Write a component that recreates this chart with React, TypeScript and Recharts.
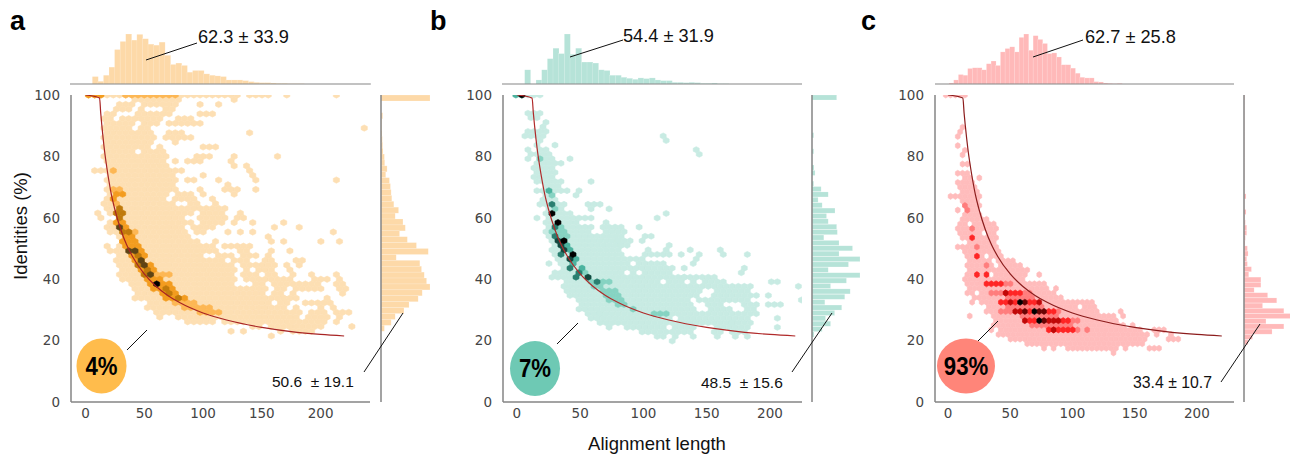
import { BarChart, Bar, XAxis, YAxis, ScatterChart, Scatter } from 'recharts'

// HSSP threshold curve, same in every panel
const curveLength = [0, 12, 13, 14, 16, 18, 20, 22, 25, 30, 35, 40, 50, 60, 70, 80, 100, 120, 150, 180, 200, 220]
const curveIdentity = [100, 99, 94, 89.8, 82.5, 76.8, 71.9, 67.6, 62.7, 56.2, 51.2, 47.4, 41.7, 37.7, 34.7, 32.4, 29, 26.7, 24.3, 22.7, 22, 21.5]

const xTicks = [0, 50, 100, 150, 200]
const yTicks = [0, 20, 40, 60, 80, 100]

// hex bins: [row, from, to, from, to, ...] in alignment length
const hexSpansA = [
  [0, 0,130, 142,154, 169,169, 211,211],
  [1, 40,80, 129,129],
  [2, 28,38, 52,60, 68,74, 100,100, 111,111],
  [3, 24,38, 45,48, 68,76],
  [4, 16,24, 45,60, 66,72, 100,107],
  [5, 15,22, 30,40, 50,62, 77,82, 92,92],
  [6, 16,42, 48,60, 72,82, 88,98],
  [7, 15,22, 28,38, 49,54, 239,239],
  [8, 16,55, 69,80, 137,137],
  [9, 16,58, 71,89],
  [10, 16,20, 25,57, 79,79],
  [11, 18,55, 61,61, 102,109],
  [12, 18,40, 50,66],
  [13, 18,71, 96,105, 129,129, 161,161],
  [14, 18,55, 62,68, 74,74, 85,96, 122,122],
  [15, 20,71, 129,129, 139,139],
  [16, 10,15, 20,50, 57,61, 68,82, 137,137],
  [17, 20,76, 98,98, 140,140],
  [18, 21,45, 52,61, 66,75, 85,91, 111,111, 147,147, 216,216],
  [19, 22,76, 123,123],
  [20, 20,45, 51,74, 100,100, 116,127, 147,147],
  [21, 21,58, 65,71, 81,88, 102,102, 129,129],
  [22, 21,68, 74,90, 110,110],
  [23, 17,72, 88,96, 108,108],
  [24, 20,90, 96,118],
  [25, 13,13, 20,88, 98,118, 133,133],
  [26, 13,13, 27,83, 96,116, 127,127, 135,135],
  [27, 23,83, 90,90, 98,116, 126,126, 142,142, 169,169],
  [28, 21,83, 94,109, 160,160, 181,181],
  [29, 21,85, 94,98, 122,122, 132,132, 142,142, 210,210],
  [30, 27,87, 156,156],
  [31, 30,96, 110,110, 157,157, 169,169, 200,200, 216,216],
  [32, 21,21, 30,95, 104,108, 118,132, 140,140],
  [33, 22,100, 106,110, 134,138, 156,156, 173,173],
  [34, 27,100, 112,122, 135,138, 146,146, 154,154],
  [35, 27,108, 116,118, 126,126, 134,138, 152,156, 180,184],
  [36, 29,126, 134,150, 158,162, 171,171, 181,181],
  [37, 29,104, 113,128, 136,136, 150,156, 172,172],
  [38, 29,125, 135,147, 154,163, 177,177, 192,192, 212,212],
  [39, 29,128, 138,150, 152,162, 170,174, 193,207, 214,214],
  [40, 38,126, 146,152, 160,167, 172,195, 212,220],
  [41, 40,152, 165,170, 178,198, 216,221],
  [42, 43,152, 160,168, 176,176, 218,218],
  [43, 43,167, 171,181, 204,204],
  [44, 54,157, 166,170, 186,201, 210,210],
  [45, 52,170, 177,181, 199,199, 211,211],
  [46, 61,170, 176,180, 193,204, 215,225],
  [47, 64,64, 77,181, 190,204, 214,218],
  [48, 85,102, 108,108, 120,176, 182,203, 214,214],
  [49, 141,150, 158,175, 176,200, 226,226],
  [50, 124,124, 135,135, 165,165, 178,190],
  [51, 158,158],
]

const hexSpansB = [
  [0, -1,16],
  [4, 10,18],
  [5, 11,17],
  [6, 21,21],
  [7, 19,21],
  [8, 9,21],
  [9, 6,9, 15,21, 117,117],
  [10, 18,20, 120,120],
  [11, 18,18, 31,31],
  [12, 10,10, 18,25, 143,143],
  [13, 12,26, 145,145],
  [14, 10,10, 17,30, 42,42],
  [15, 16,29, 35,35],
  [16, 14,28],
  [17, 18,28],
  [18, 12,12, 20,28],
  [19, 18,34, 60,60],
  [20, 21,32],
  [21, 18,38, 47,47],
  [22, 22,30, 49,49],
  [23, 21,32],
  [24, 16,37, 58,64],
  [25, 24,34, 60,60, 74,74],
  [26, 24,42, 117,117],
  [27, 14,14, 25,38, 45,52, 60,60, 110,110],
  [28, 24,45, 72,72],
  [29, 27,58, 70,83, 97,97],
  [30, 21,56, 72,83],
  [31, 25,58, 64,78, 83,83, 99,99, 106,106],
  [32, 27,56, 63,78, 80,89, 99,99],
  [33, 29,58, 64,80, 84,89, 118,118],
  [34, 30,60, 64,78, 104,106, 118,118, 136,136, 159,159],
  [35, 29,62, 70,80, 102,112, 115,121, 129,129, 143,143, 161,161, 183,183],
  [36, 33,64, 71,97, 141,141],
  [37, 24,24, 33,78, 83,89, 95,114, 141,141],
  [38, 35,83, 89,96, 100,122, 131,131, 181,181],
  [39, 30,83, 90,90, 102,121, 178,178],
  [40, 29,130, 134,145, 149,154],
  [41, 40,110, 120,130, 138,138, 151,162, 199,205],
  [42, 37,125, 129,157, 162,183, 224,224],
  [43, 38,125, 129,143, 158,183],
  [44, 42,143, 156,188, 197,197],
  [45, 47,135, 146,162, 170,183, 224,224],
  [46, 50,138, 149,159, 180,188, 201,208],
  [47, 51,141, 154,170, 184,188],
  [48, 54,64, 66,157, 162,191],
  [49, 60,121, 128,172, 176,180, 204,204],
  [50, 67,122, 128,133, 138,168, 170,183],
  [51, 71,71, 88,117, 125,135, 141,141, 156,183, 204,204],
  [52, 99,114, 120,135, 154,161, 170,181],
  [53, 112,114, 124,127, 141,141, 156,156, 172,172, 181,181],
  [54, 124,124],
]

const hexSpansC = [
  [0, 0,12],
  [7, 10,10],
  [8, 8,8],
  [9, 6,6],
  [11, 7,7],
  [12, 12,12],
  [13, 10,10],
  [15, 10,15],
  [17, 7,11, 17,17],
  [18, 13,19, 24,24],
  [19, 7,7, 13,20],
  [20, 8,8, 13,20],
  [21, 13,22],
  [22, 3,22, 24,24],
  [23, 12,22],
  [24, 12,12, 16,24],
  [25, 7,7, 14,24],
  [26, 14,27],
  [27, 11,28, 32,32],
  [28, 11,15, 20,22, 27,37],
  [29, 7,20, 25,38],
  [30, 11,15, 19,26, 33,38],
  [31, 11,16, 22,40],
  [32, 16,35],
  [33, 7,28, 31,38],
  [34, 13,30, 33,40],
  [35, 14,28, 34,44],
  [36, 18,32, 42,54],
  [37, 17,31, 33,36, 44,59],
  [38, 17,62],
  [39, 15,30, 40,63, 74,74],
  [40, 14,60],
  [41, 17,26, 29,78],
  [42, 18,22, 26,78, 85,85],
  [43, 14,14, 18,20, 28,86],
  [44, 22,90],
  [45, 18,18, 27,115],
  [46, 31,102, 108,118],
  [47, 32,121, 139,139],
  [48, 19,19, 36,132, 140,140],
  [49, 39,134],
  [50, 38,142, 147,150],
  [51, 33,33, 41,155, 165,175],
  [52, 42,126, 130,160, 169,169, 180,180],
  [53, 50,158, 177,180, 185,185],
  [54, 62,148, 152,158],
  [55, 76,76, 86,86, 96,130, 136,136, 143,143, 162,170],
  [56, 134,134],
]

// denser bins: [row, from, to, level]
const hexDenseA = [
  [0,2,11,3],[0,36,76,2],[16,22,22,2],[20,24,30,2],[21,24,30,3],[22,26,26,3],[23,26,28,2],[24,27,30,4],[25,28,30,4],
  [26,27,31,4],[27,28,31,3],[28,29,29,5],[28,32,36,3],[29,31,36,4],[29,38,44,2],[30,32,40,3],[31,34,42,3],[32,36,44,3],
  [33,38,38,5],[33,42,42,5],[33,46,46,3],[34,40,48,3],[34,45,45,4],[34,50,50,2],[35,42,50,3],[35,48,48,5],[36,44,56,3],
  [36,46,46,4],[36,51,51,5],[37,48,58,3],[37,53,53,4],[38,50,62,2],[38,56,56,5],[38,52,52,4],[38,64,72,2],[39,54,62,3],
  [40,61,61,6],[40,56,56,3],[40,66,70,3],[41,58,74,3],[41,68,68,4],[42,64,78,3],[42,72,72,4],[43,70,82,3],[43,79,79,4],
  [44,76,90,2],[45,82,95,2],[45,98,106,2],[46,98,115,2],
]

const hexDenseB = [
  [0,0,3,3],[0,5,5,6],[14,17,17,2],[21,24,24,3],[22,26,26,2],[24,26,26,4],[25,28,28,2],[26,26,26,6],[28,31,31,6],
  [29,28,28,4],[29,34,34,2],[30,28,36,2],[31,30,30,4],[31,35,40,2],[32,39,39,3],[32,31,31,5],[32,35,35,6],[33,33,40,3],
  [33,37,37,5],[34,43,43,3],[34,38,38,5],[35,46,46,2],[35,37,37,4],[35,42,42,6],[36,48,48,3],[36,40,40,4],[36,44,44,5],
  [37,46,46,3],[37,42,42,3],[38,50,50,3],[38,44,44,4],[39,55,55,2],[39,47,47,3],[39,51,51,4],[40,58,58,3],[40,48,48,4],
  [40,54,54,5],[41,58,58,2],[41,66,72,2],[41,62,62,4],[42,60,68,2],[43,66,76,2],[44,70,78,2],[45,72,82,2],[46,78,84,2],
  [47,92,92,2],[48,108,118,2],
]

const hexDenseC = [
  [24,12,12,2],[25,14,14,2],[29,18,18,2],[31,18,18,3],[33,22,22,2],[35,22,22,3],[37,32,32,2],[39,25,25,3],[39,32,32,3],
  [41,31,44,3],[41,46,50,2],[43,35,43,2],[43,45,45,3],[43,48,48,4],[43,51,58,3],[43,60,66,2],[44,48,67,2],
  [45,42,48,3],[45,51,51,4],[45,55,55,3],[45,59,59,6],[45,63,63,5],[45,66,71,3],[45,74,74,4],[46,50,75,2],
  [47,43,52,2],[47,55,55,4],[47,59,59,4],[47,63,63,5],[47,66,66,3],[47,70,70,6],[47,74,77,5],[47,81,85,3],[47,88,88,2],
  [48,59,86,2],[49,63,63,4],[49,66,70,3],[49,73,73,6],[49,77,77,5],[49,81,88,4],[49,91,97,3],[49,100,103,2],
  [50,67,98,2],[51,81,101,3],[51,85,85,4],[51,103,103,2],[51,110,110,2],
]

// marginal histogram of alignment length, equal bins across the axis
const topHistA = [0, 0, 0, 0, 22, 8, 26, 50, 102, 126, 148, 130, 147, 134, 118, 115, 124, 85, 58, 62, 55, 35, 40, 40, 30, 26, 24, 22, 12, 12, 12, 10, 7, 5, 4, 4, 3, 2, 2, 1, 1, 1, 0, 0, 0, 0, 0, 0, 0, 0, 0, 0, 0, 0]
const topHistB = [0, 0, 0, 0, 42, 0, 12, 42, 75, 106, 90, 148, 88, 106, 65, 65, 62, 42, 40, 26, 26, 20, 17, 14, 18, 16, 18, 12, 10, 10, 5, 5, 4, 5, 4, 2, 2, 3, 1, 1, 0, 0, 0, 0, 0, 0, 0, 0, 0, 0, 0, 0, 0]
const topHistC = [0, 0, 0, 3, 12, 28, 26, 46, 48, 48, 42, 60, 68, 55, 95, 105, 110, 95, 138, 148, 100, 143, 132, 120, 90, 92, 80, 57, 57, 47, 32, 20, 18, 18, 7, 6, 3, 2, 1, 2, 0, 0, 0, 0, 0, 0, 0, 0, 0, 0, 0, 0, 0, 0, 0, 0, 0, 0, 0, 0, 0, 0, 0, 0]

// marginal histogram of identities, from 100 % downwards
const sideHistA = [145, 0, 0, 5, 2, 2, 3, 4, 5, 6, 10, 11, 18, 14, 25, 28, 30, 32, 38, 52, 42, 65, 72, 55, 78, 105, 140, 45, 115, 120, 128, 135, 145, 122, 110, 83, 68, 42, 30, 10, 0, 0, 0, 0, 0, 0, 0, 0, 0, 0, 0, 0]
const sideHistB = [73, 0, 0, 0, 0, 0, 0, 5, 0, 0, 5, 0, 0, 6, 9, 0, 5, 27, 48, 18, 30, 68, 43, 48, 73, 75, 35, 80, 120, 80, 142, 108, 48, 142, 102, 55, 113, 97, 38, 88, 67, 40, 55, 30, 6, 0, 0, 0, 0, 0, 0, 0, 0, 0, 0, 0, 0]
const sideHistC = [2, 1, 1, 1, 1, 1, 1, 1, 1, 1, 1, 1, 1, 1, 1, 1, 1, 1, 1, 6, 1, 1, 6, 2, 4, 8, 8, 4, 3, 10, 12, 8, 10, 22, 14, 50, 50, 30, 70, 97, 55, 118, 137, 65, 118, 83, 25, 12, 3, 0, 0, 0, 0, 0, 0, 0, 0, 0, 0]

const tableFrom = (values: number[]) => values.map((count, bin) => ({ bin, count }))
const curveData = curveLength.map((x, i) => ({ x, y: curveIdentity[i] }))

function expandHexes(spans: number[][], dense: number[][], dx: number, x0: number, rowStep: number, ramp: string[]) {
  const place = (row: number, from: number, to: number, level: number, out: any[]) => {
    const shift = row % 2 ? dx / 2 : 0
    const first = Math.round((from - x0 - shift) / dx)
    const last = Math.round((to - x0 - shift) / dx)
    for (let k = first; k <= last; k++) {
      out.push({ x: x0 + shift + k * dx, y: 100 - row * rowStep, fill: ramp[level - 1] })
    }
  }
  const cells: any[] = []
  spans.forEach(([row, ...pairs]) => {
    for (let i = 0; i < pairs.length; i += 2) place(row, pairs[i], pairs[i + 1], 1, cells)
  })
  // low levels first so the black bins stay on top
  ;[...dense].sort((a, b) => a[3] - b[3]).forEach(([row, from, to, level]) => place(row, from, to, level, cells))
  return cells
}

function hexShape(w: number, h: number) {
  return ({ cx, cy, payload }: any) => (
    <polygon
      points={`${cx},${cy - h / 2} ${cx + w / 2},${cy - h / 4} ${cx + w / 2},${cy + h / 4} ${cx},${cy + h / 2} ${cx - w / 2},${cy + h / 4} ${cx - w / 2},${cy - h / 4}`}
      fill={payload.fill}
      stroke={payload.fill}
      strokeWidth={0.6}
    />
  )
}

const NoMarker = () => null

// empty bins draw nothing, so they do not cover the axis line
const HistBar = ({ x, y, width, height, fill }: any) =>
  width > 0 && height > 0 ? <rect x={x} y={y} width={width} height={height} fill={fill} stroke="#fff" strokeOpacity={0.35} strokeWidth={0.5} /> : null

const AXIS = '#858585'
const TICK = { fontSize: 13.5, fill: '#444', fontFamily: 'DejaVu Sans' }

interface PanelProps {
  axisLeft: number
  axisRight: number
  xDomain: number[]
  cells: any[]
  hexW: number
  hexH: number
  curveColor: string
  histColor: string
  topHist: number[]
  topLeft: number
  topWidth: number
  sideHist: number[]
  sideLeft: number
}

function Panel(p: PanelProps) {
  const leftGutter = 40
  return (
    <>
      <div style={{ position: 'absolute', left: p.topLeft, top: 34 }}>
        <BarChart width={p.topWidth} height={53} data={tableFrom(p.topHist)} barCategoryGap={0} margin={{ top: 0, right: 0, left: 0, bottom: 2 }}>
          <XAxis dataKey="bin" tick={false} tickLine={false} height={1} axisLine={{ stroke: AXIS, strokeWidth: 1.2 }} />
          <YAxis hide domain={[0, 148]} />
          <Bar dataKey="count" fill={p.histColor} shape={HistBar} isAnimationActive={false} />
        </BarChart>
      </div>
      <div style={{ position: 'absolute', left: p.axisLeft - leftGutter, top: 85 }}>
        <ScatterChart width={p.axisRight - p.axisLeft + leftGutter} height={347} margin={{ top: 10, right: 0, left: 0, bottom: 0 }}>
          <XAxis type="number" dataKey="x" domain={p.xDomain} ticks={xTicks} allowDataOverflow height={30} tick={TICK} tickLine={false} tickMargin={0} axisLine={{ stroke: AXIS, strokeWidth: 1.5 }} />
          <YAxis type="number" dataKey="y" domain={[0, 100]} ticks={yTicks} allowDataOverflow width={leftGutter} tick={TICK} tickLine={false} tickMargin={5} axisLine={{ stroke: AXIS, strokeWidth: 1.5 }} />
          <Scatter data={p.cells} shape={hexShape(p.hexW, p.hexH)} isAnimationActive={false} />
          <Scatter data={curveData} shape={NoMarker} line={{ stroke: p.curveColor, strokeWidth: 1.2 }} lineJointType="monotoneX" isAnimationActive={false} />
        </ScatterChart>
      </div>
      <div style={{ position: 'absolute', left: p.sideLeft - 3, top: 95 }}>
        <BarChart layout="vertical" width={53} height={307} data={tableFrom(p.sideHist)} barCategoryGap={0} margin={{ top: 0, right: 0, left: 2, bottom: 0 }}>
          <XAxis type="number" hide domain={[0, 148]} />
          <YAxis type="category" dataKey="bin" width={1} tick={false} tickLine={false} axisLine={{ stroke: AXIS, strokeWidth: 1.5 }} />
          <Bar dataKey="count" fill={p.histColor} shape={HistBar} isAnimationActive={false} />
        </BarChart>
      </div>
    </>
  )
}

const SANS = 'Liberation Sans'

function Note({ x, y, size, children }: { x: number; y: number; size: number; children: string }) {
  return (
    <text x={x} y={y} fontFamily={SANS} fontSize={size} fill="#111" xmlSpace="preserve">
      {children}
    </text>
  )
}

function Leader({ d }: { d: number[] }) {
  return <line x1={d[0]} y1={d[1]} x2={d[2]} y2={d[3]} stroke="#111" strokeWidth={1} />
}

function Badge({ cx, cy, rx, ry, fill, label }: { cx: number; cy: number; rx: number; ry: number; fill: string; label: string }) {
  return (
    <>
      <ellipse cx={cx} cy={cy} rx={rx} ry={ry} fill={fill} />
      <text transform={`translate(${cx} ${cy + 8.5}) scale(0.87 1)`} textAnchor="middle" fontFamily={SANS} fontWeight={700} fontSize={25.5} fill="#000">
        {label}
      </text>
    </>
  )
}

const cellsA = expandHexes(hexSpansA, hexDenseA, 5.27, 2.6, 1.539, ['#fddfb3', '#fdb754', '#f39c1f', '#c07a0c', '#5e4314', '#000000'])
const cellsB = expandHexes(hexSpansB, hexDenseB, 4.75, -0.8, 1.484, ['#c8ebe3', '#86d3c2', '#4cb39f', '#2a7f70', '#14483f', '#000000'])
const cellsC = expandHexes(hexSpansC, hexDenseC, 3.85, 2.1, 1.5, ['#ffbcbc', '#ff7d7d', '#ff2525', '#c00808', '#6a0404', '#000000'])

export default function App() {
  return (
    <div style={{ position: 'absolute', left: 0, top: 0, width: 1290, height: 455, background: '#fff', overflow: 'hidden' }}>
      <Panel axisLeft={71} axisRight={370} xDomain={[-12.3, 242]} cells={cellsA} hexW={6.2} hexH={6.3} curveColor="#a82424" histColor="#fdd9a8"
        topHist={topHistA} topLeft={70.4} topWidth={300.8} sideHist={sideHistA} sideLeft={380.5} />
      <Panel axisLeft={503} axisRight={802} xDomain={[-11, 225.3]} cells={cellsB} hexW={6} hexH={6.07} curveColor="#b02a2a" histColor="#b6e3d8"
        topHist={topHistB} topLeft={502} topWidth={300.3} sideHist={sideHistB} sideLeft={812.3} />
      <Panel axisLeft={935} axisRight={1234} xDomain={[-10.4, 229.8]} cells={cellsC} hexW={4.8} hexH={6.13} curveColor="#8c1c1c" histColor="#ffb9b9"
        topHist={topHistC} topLeft={935} topWidth={299} sideHist={sideHistC} sideLeft={1244.3} />

      <svg width={1290} height={455} style={{ position: 'absolute', left: 0, top: 0, pointerEvents: 'none' }}>
        <text x={10} y={30} fontFamily={SANS} fontWeight={700} fontSize={27} fill="#000">a</text>
        <text x={430} y={30} fontFamily={SANS} fontWeight={700} fontSize={27} fill="#000">b</text>
        <text x={861} y={30} fontFamily={SANS} fontWeight={700} fontSize={27} fill="#000">c</text>

        <Leader d={[146, 60, 197, 43]} />
        <Leader d={[364, 372, 403, 313]} />
        <Leader d={[127, 350, 147, 330]} />
        <Leader d={[570, 57, 623, 40]} />
        <Leader d={[792, 372, 832, 313]} />
        <Leader d={[557, 344, 578, 323]} />
        <Leader d={[1033, 57, 1083, 40]} />
        <Leader d={[1221, 382, 1260, 324]} />
        <Leader d={[978, 341, 998, 321]} />

        <Note x={198} y={43} size={18.2}>62.3 ± 33.9</Note>
        <Note x={272} y={386.5} size={15.5}>50.6  ± 19.1</Note>
        <Note x={623} y={42} size={18.2}>54.4 ± 31.9</Note>
        <Note x={701} y={387.5} size={15.5}>48.5  ± 15.6</Note>
        <Note x={1085} y={43} size={18.2}>62.7 ± 25.8</Note>
        <Note x={1133} y={387.5} size={15.8}>33.4 ± 10.7</Note>

        <Badge cx={101.5} cy={366} rx={25} ry={27.5} fill="#ffbc4c" label="4%" />
        <Badge cx={535} cy={368.5} rx={25} ry={27.5} fill="#6ec9b4" label="7%" />
        <Badge cx={966} cy={366} rx={29} ry={27.5} fill="#ff8579" label="93%" />

        <text x={657} y={450} textAnchor="middle" fontFamily={SANS} fontSize={18.5} fill="#111">Alignment length</text>
        <text transform="translate(27 226) rotate(-90)" textAnchor="middle" fontFamily={SANS} fontSize={18.5} fill="#111">Identities (%)</text>
      </svg>
    </div>
  )
}
